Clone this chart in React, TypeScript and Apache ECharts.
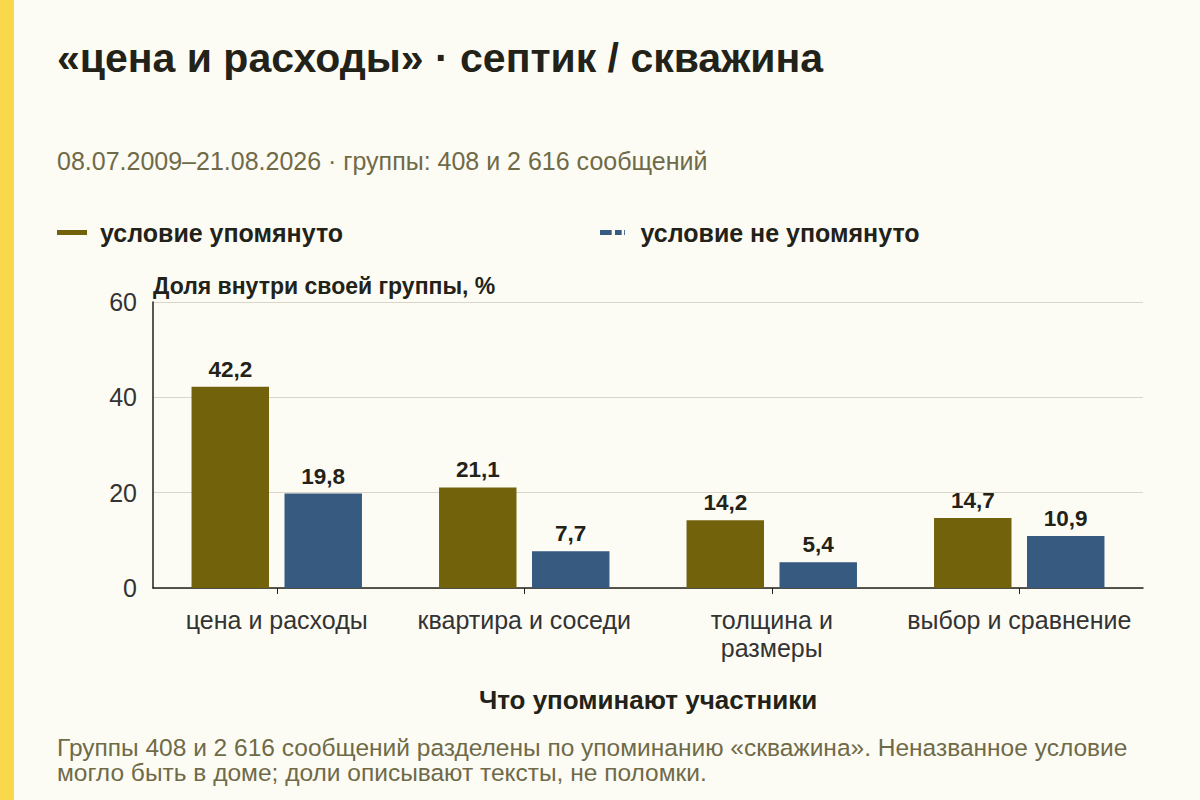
import { useEffect, useRef } from "react";
import * as echarts from "echarts";

const categories = ["цена и расходы", "квартира и соседи", "толщина и\nразмеры", "выбор и сравнение"];
const mentioned = [42.2, 21.1, 14.2, 14.7];
const notMentioned = [19.8, 7.7, 5.4, 10.9];
const seriesNames = ["условие упомянуто", "условие не упомянуто"];
const yTicks = { min: 0, max: 60, interval: 20 };

const FONT = "'Liberation Sans', Arial, sans-serif";
const OLIVE = "#73620c";
const BLUE = "#365a80";
const INK = "#222219";
const MUTED = "#6f6a48";

const fmt = (v: number) => v.toFixed(1).replace(".", ",");

export default function App() {
  const chartRef = useRef<HTMLDivElement>(null);

  useEffect(() => {
    if (!chartRef.current) return;
    const chart = echarts.init(chartRef.current, undefined, { renderer: "svg" });
    const valueLabel = {
      show: true,
      position: "top",
      distance: 6,
      formatter: (p: any) => fmt(p.value),
      fontFamily: FONT,
      fontSize: 22.5,
      fontWeight: "bold",
      color: INK,
    };
    chart.setOption({
      animation: false,
      backgroundColor: "#fdfcf4",
      textStyle: { fontFamily: FONT },
      graphic: [
        { type: "rect", left: 0, top: 0, shape: { width: 14, height: 800 }, style: { fill: "#f9d84b" } },
      ],
      title: [
        {
          text: "«цена и расходы» · септик / скважина",
          left: 57,
          top: 37,
          padding: 0,
          textStyle: { fontFamily: FONT, fontSize: 41, fontWeight: "bold", color: INK },
        },
        {
          text: "08.07.2009–21.08.2026 · группы: 408 и 2 616 сообщений",
          left: 57,
          top: 148,
          padding: 0,
          textStyle: { fontFamily: FONT, fontSize: 25, fontWeight: "normal", color: MUTED },
        },
        {
          text: "Группы 408 и 2 616 сообщений разделены по упоминанию «скважина». Неназванное условие\nмогло быть в доме; доли описывают тексты, не поломки.",
          left: 57,
          top: 735,
          padding: 0,
          textStyle: { fontFamily: FONT, fontSize: 24.5, fontWeight: "normal", color: MUTED, lineHeight: 25 },
        },
      ],
      legend: [
        {
          data: [{ name: seriesNames[0], icon: "rect" }],
          left: 57,
          top: 220,
          padding: 0,
          itemWidth: 30,
          itemHeight: 5,
          textStyle: { fontFamily: FONT, fontSize: 25, fontWeight: "bold", color: INK, padding: [0, 0, 0, 8] },
          selectedMode: false,
        },
        {
          data: [{ name: seriesNames[1], icon: "path://M0 0h14v6H0z M18 0h8v6h-8z M29 0h1v6h-1z" }],
          left: 600,
          top: 220,
          padding: 0,
          itemWidth: 30,
          itemHeight: 5,
          textStyle: { fontFamily: FONT, fontSize: 25, fontWeight: "bold", color: INK, padding: [0, 0, 0, 8] },
          selectedMode: false,
        },
      ],
      grid: { left: 153, right: 57, top: 302, bottom: 212, containLabel: false },
      xAxis: {
        type: "category",
        data: categories,
        name: "Что упоминают участники",
        nameLocation: "middle",
        nameGap: 99,
        nameTextStyle: { fontFamily: FONT, fontSize: 26, fontWeight: "bold", color: INK },
        axisLine: { lineStyle: { color: INK, width: 1.5 } },
        axisTick: { show: true, alignWithLabel: true, length: 6, lineStyle: { color: INK } },
        axisLabel: { fontFamily: FONT, fontSize: 25, color: "#333", margin: 18, lineHeight: 28, interval: 0 },
      },
      yAxis: {
        type: "value",
        min: yTicks.min,
        max: yTicks.max,
        interval: yTicks.interval,
        name: "Доля внутри своей группы, %",
        nameLocation: "end",
        nameGap: 5,
        nameTextStyle: { fontFamily: FONT, fontSize: 23, fontWeight: "bold", color: INK, align: "left" },
        axisLine: { show: true, lineStyle: { color: INK, width: 1.5 } },
        axisTick: { show: false },
        axisLabel: { fontFamily: FONT, fontSize: 25, color: "#333", margin: 16 },
        splitLine: { lineStyle: { color: "#d9d5c8", width: 1 } },
      },
      series: [
        {
          name: seriesNames[0],
          type: "bar",
          data: mentioned,
          itemStyle: { color: OLIVE },
          barWidth: "31.3%",
          barGap: "20%",
          label: valueLabel,
        },
        {
          name: seriesNames[1],
          type: "bar",
          data: notMentioned,
          itemStyle: { color: BLUE },
          barWidth: "31.3%",
          barGap: "20%",
          label: valueLabel,
        },
      ],
    });
    return () => chart.dispose();
  }, []);

  return (
    <div
      ref={chartRef}
      style={{ position: "fixed", left: 0, top: 0, width: 1200, height: 800 }}
    />
  );
}
